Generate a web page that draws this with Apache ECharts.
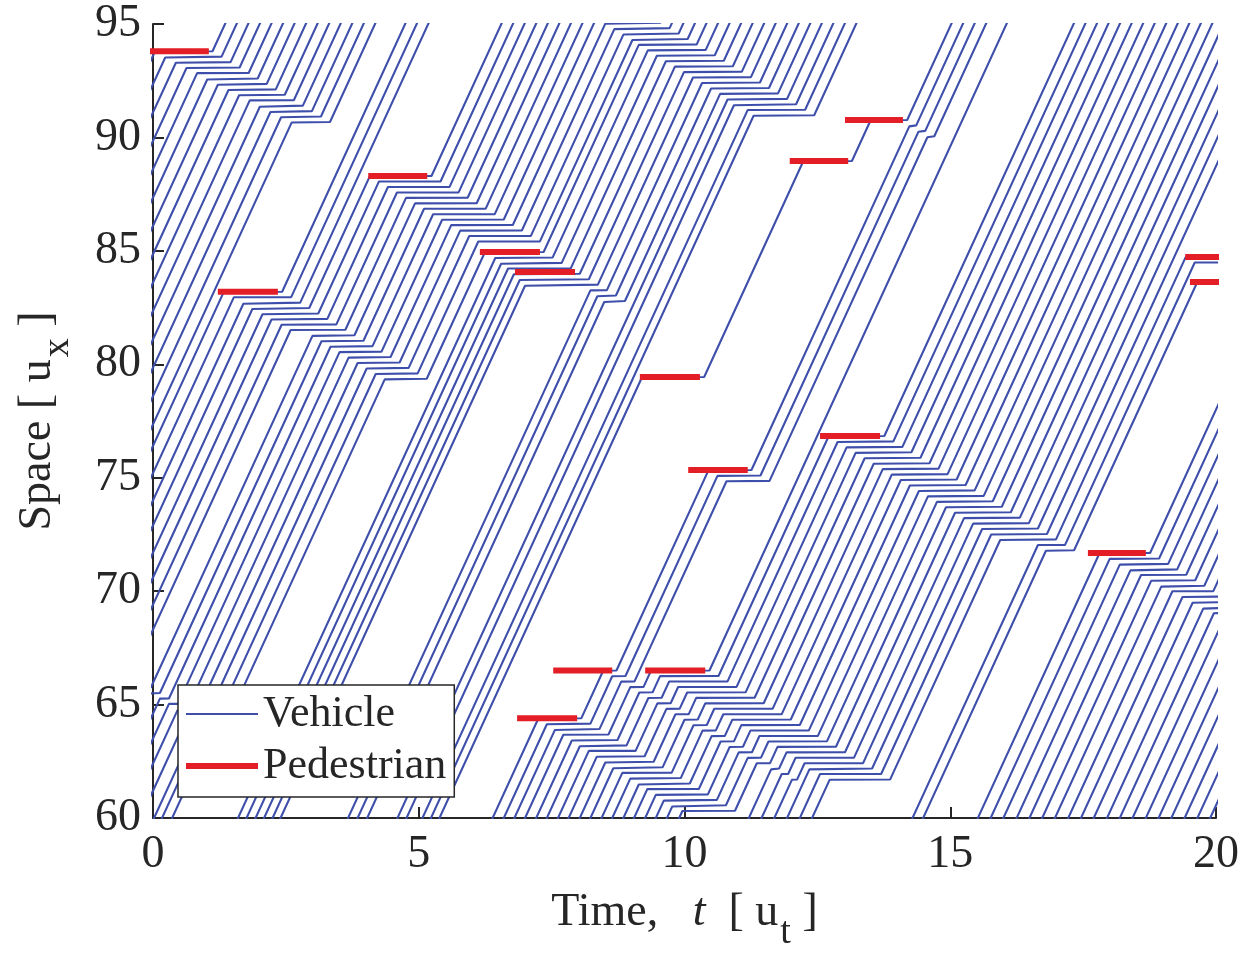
<!DOCTYPE html>
<html>
<head>
<meta charset="utf-8">
<title>Vehicle and pedestrian trajectories</title>
<script src="https://cdn.jsdelivr.net/npm/echarts@6/dist/echarts.min.js"></script>
<style>
  html, body { margin: 0; padding: 0; background: #fff; }
  #chart { width: 1247px; height: 960px; }
</style>
</head>
<body>
<div id="chart"></div>
<script>
var myChart = echarts.init(document.getElementById('chart'));

// traffic parameters
var freeSpeed = 5.1;     // u_x per u_t
var jamGap = 0.24;       // spacing of stopped vehicles
var followLag = 0.09;    // car following lag
var startDelay = 0.08;   // extra delay when starting from rest

// vehicles already on the road at t = 0 (position in u_x)
var startPositions = [
  93.6, 92.35, 91.1, 89.85, 88.6, 87.35, 86.1, 84.85, 83.6, 82.35, 81.1, 79.85, 78.6, 77.35,
  76.4, 75.2, 74.0, 72.9, 71.7, 70.6, 69.4,
  68.3, 67.2, 66.2,
  64.6, 63.5, 62.4, 61.2
];

// time each later vehicle reaches the bottom of the window (x = 60)
var entryTimes = [
  0.02, 0.17, 0.36,
  1.60, 1.76, 1.93, 2.09, 2.25, 2.40,
  3.67, 3.85, 4.03,
  4.60, 4.77, 5.07, 5.23, 5.39,
  6.39, 6.60, 6.80, 7.00, 7.21, 7.41, 7.62, 7.82, 8.03,
  8.23, 8.44, 8.64, 8.85, 9.05, 9.26, 9.46, 9.67, 9.90,
  11.21, 11.45, 11.69, 11.93, 12.17, 12.40,
  14.29, 14.49,
  15.52, 15.76, 16.00, 16.25, 16.49, 16.73, 16.97, 17.22, 17.46, 17.70,
  17.95, 18.19, 18.43, 18.68, 18.92, 19.16, 19.41, 19.65, 19.89
];

// pedestrian crossings: position, start, end (a few lie just outside the window)
var pedX     = [65.75, 95.30, 93.80, 83.20, 88.30, 84.95, 84.07, 64.40, 66.50, 79.44, 66.50, 75.34, 88.96, 76.84, 90.77, 71.68, 84.73, 83.63];
var pedStart = [-0.45, 8.15, -0.10, 1.22, 4.05, 6.15, 6.81, 6.85, 7.53, 9.16, 9.26, 10.07, 11.98, 12.55, 13.02, 17.59, 19.42, 19.51];
var pedEnd   = [-0.12, 9.30, 1.05, 2.35, 5.16, 7.28, 7.94, 7.98, 8.64, 10.29, 10.39, 11.19, 13.08, 13.68, 14.11, 18.68, 20.50, 20.60];

function simulate() {
  var dt = 0.01, t0 = -7, steps = Math.round((20.4 - t0) / dt);
  var e = startPositions.map(function (x) { return (60 - x) / freeSpeed; })
    .concat(entryTimes).sort(function (a, b) { return a - b; });
  var lag = Math.round(followLag / dt);
  var tracks = [];
  for (var i = 0; i < e.length; i++) {
    var p = new Float64Array(steps + 1);
    p[0] = 60 + freeSpeed * (t0 - e[i]);
    var lead = i > 0 ? tracks[i - 1] : null;
    var waitFrom = null;
    for (var k = 1; k <= steps; k++) {
      var t = t0 + k * dt;
      var prev = p[k - 1];
      var cap = prev + freeSpeed * dt;
      if (lead) {
        var kl = k - lag;
        var xl = kl >= 0 ? lead[kl] : lead[0] + freeSpeed * kl * dt;
        cap = Math.min(cap, xl - jamGap);
      }
      for (var j = 0; j < pedX.length; j++) {
        if (t >= pedStart[j] && t <= pedEnd[j] && prev <= pedX[j] + 1e-9) {
          cap = Math.min(cap, pedX[j]);
        }
      }
      if (cap < prev) cap = prev;
      var stopped = k > 1 && prev - p[k - 2] < 1e-9;
      if (stopped) {
        if (cap > prev + 1e-9) {
          if (waitFrom === null) waitFrom = t;
          if (t - waitFrom < startDelay - 1e-9) cap = prev;
        } else {
          waitFrom = null;
        }
      } else {
        waitFrom = null;
      }
      p[k] = cap;
    }
    tracks.push(p);
  }

  // keep only the corners of each trajectory
  var data = [];
  var k0 = Math.round((-0.3 - t0) / dt);
  tracks.forEach(function (p) {
    var pts = [], lo = Infinity, hi = -Infinity;
    for (var k = k0; k <= steps; k++) {
      lo = Math.min(lo, p[k]); hi = Math.max(hi, p[k]);
      var keep = k === k0 || k === steps ||
        Math.abs((p[k + 1] - p[k]) - (p[k] - p[k - 1])) > 1e-7;
      if (keep) pts.push([+(t0 + k * dt).toFixed(3), +p[k].toFixed(4)]);
    }
    if (hi < 59 || lo > 96) return;
    data = data.concat(pts);
    data.push('-');
  });
  return data;
}

var vehicleData = simulate();
var pedData = [];
for (var j = 0; j < pedX.length; j++) {
  pedData.push([pedStart[j], pedX[j]], [pedEnd[j], pedX[j]], '-');
}

var font = 'Liberation Serif, Times New Roman, serif';
var ink = '#262626';
var blue = '#3e4fab';
var red = '#e41e26';

option = {
  animation: false,
  grid: { left: 153, right: 31, top: 24, bottom: 142 },
  legend: {
    left: 178,
    top: 685,
    orient: 'vertical',
    itemWidth: 72,
    itemHeight: 20,
    itemGap: 6,
    padding: [6, 8, 8, 8],
    backgroundColor: '#fff',
    borderColor: ink,
    borderWidth: 1.5,
    borderRadius: 0,
    textStyle: { fontFamily: font, fontSize: 44, lineHeight: 46, color: ink },
    data: [
      { name: 'Vehicle', icon: 'path://M0,0 L72,0 L72,2 L0,2 Z', itemStyle: { color: blue } },
      { name: 'Pedestrian', icon: 'path://M0,0 L72,0 L72,6 L0,6 Z', itemStyle: { color: red } }
    ]
  },
  xAxis: {
    type: 'value',
    min: 0,
    max: 20,
    interval: 5,
    name: '{r|Time,   }{i|t}{r|  [ u}{s|t}{r| ]}',
    nameLocation: 'middle',
    nameGap: 72,
    nameTextStyle: {
      color: ink,
      rich: {
        r: { fontFamily: font, fontSize: 46, color: ink, lineHeight: 50, verticalAlign: 'top' },
        i: { fontFamily: font, fontSize: 46, fontStyle: 'italic', color: ink, lineHeight: 50, verticalAlign: 'top' },
        s: { fontFamily: font, fontSize: 38, color: ink, lineHeight: 40, verticalAlign: 'top', padding: [24, 0, 0, 2] }
      }
    },
    axisLine: { lineStyle: { color: ink, width: 2 } },
    axisTick: { inside: true, length: 11, lineStyle: { color: ink, width: 2 } },
    axisLabel: { fontFamily: font, fontSize: 46, color: ink, margin: 14 },
    splitLine: { show: false }
  },
  yAxis: {
    type: 'value',
    min: 60,
    max: 95,
    interval: 5,
    name: '{r|Space [ u}{s|x}{r| ]}',
    nameLocation: 'middle',
    nameGap: 88,
    nameRotate: 90,
    nameTextStyle: {
      color: ink,
      rich: {
        r: { fontFamily: font, fontSize: 46, color: ink, lineHeight: 50, verticalAlign: 'top' },
        s: { fontFamily: font, fontSize: 38, color: ink, lineHeight: 40, verticalAlign: 'top', padding: [24, 0, 0, 2] }
      }
    },
    axisLine: { show: true, lineStyle: { color: ink, width: 2 } },
    axisTick: { show: true, inside: true, length: 11, lineStyle: { color: ink, width: 2 } },
    axisLabel: { fontFamily: font, fontSize: 46, color: ink, margin: 12 },
    splitLine: { show: false }
  },
  series: [
    {
      name: 'Vehicle',
      type: 'line',
      data: vehicleData,
      showSymbol: false,
      symbol: 'none',
      connectNulls: false,
      clip: true,
      silent: true,
      z: 2,
      lineStyle: { color: blue, width: 2.1 },
      itemStyle: { color: blue }
    },
    {
      name: 'Pedestrian',
      type: 'line',
      data: pedData,
      showSymbol: false,
      symbol: 'none',
      connectNulls: false,
      clip: true,
      silent: true,
      z: 3,
      lineStyle: { color: red, width: 6, cap: 'butt' },
      itemStyle: { color: red }
    }
  ]
};

myChart.setOption(option);
</script>
</body>
</html>
